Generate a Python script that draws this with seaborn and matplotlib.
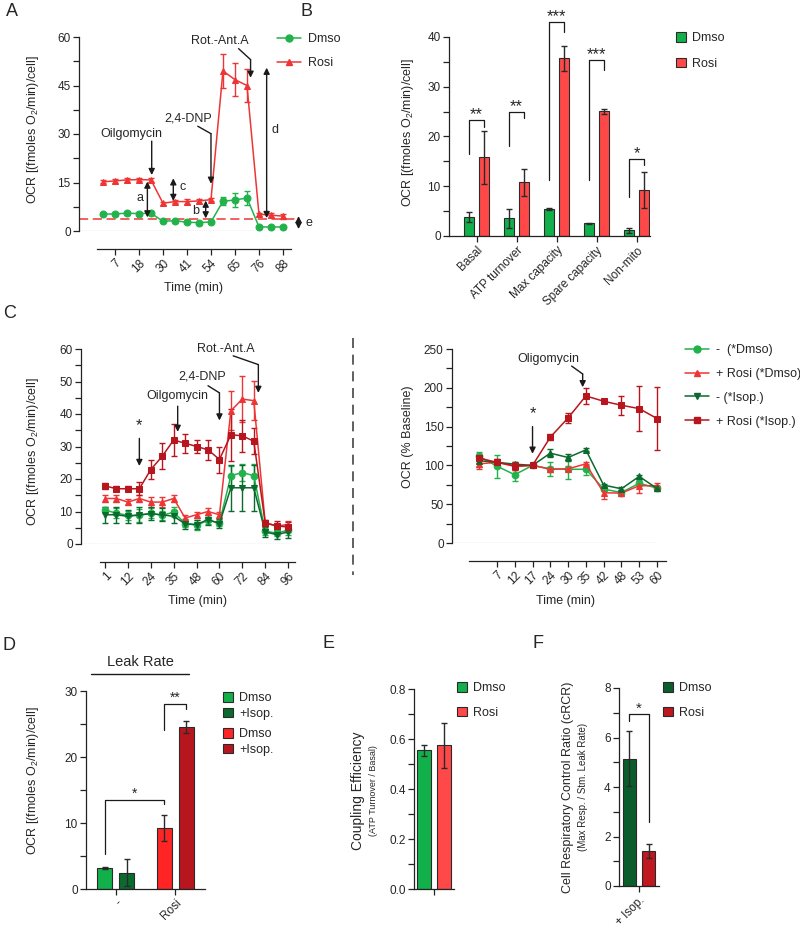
import numpy as np
import pandas as pd
import matplotlib
matplotlib.use('Agg')
import matplotlib.pyplot as plt
from matplotlib.ticker import MultipleLocator
from matplotlib.patches import Patch
from matplotlib.lines import Line2D
import seaborn as sns

# ---------------- data ----------------
# A: time course, Dmso vs Rosi (16 measurements, every other one labelled)
a_tick_labels = ['7', '18', '30', '41', '54', '65', '76', '88']
a_dmso = [5.2, 5.3, 5.5, 5.4, 5.5, 3.0, 3.2, 2.7, 2.6, 2.8, 9.2, 9.6, 10.2, 1.3, 1.2, 1.3]
a_dmso_err = [0.4, 0.4, 0.4, 0.4, 0.4, 0.3, 0.3, 0.3, 0.3, 0.3, 1.3, 2.2, 2.2, 0.3, 0.3, 0.3]
a_rosi = [15.2, 15.5, 15.8, 15.9, 15.8, 8.6, 9.1, 9.1, 9.3, 9.7, 49.5, 46.8, 45.0, 5.2, 4.9, 4.6]
a_rosi_err = [0.5, 0.5, 0.5, 0.5, 0.5, 0.5, 0.5, 0.8, 0.5, 0.5, 5.2, 5.2, 5.0, 0.5, 0.6, 0.8]
a_nonmito_level = 3.7

# B: respiration parameters
b_cats = ['Basal', 'ATP turnover', 'Max capacity', 'Spare capacity', 'Non-mito']
b_dmso = [3.8, 3.6, 5.4, 2.6, 1.2]
b_dmso_err = [1.0, 1.9, 0.2, 0.1, 0.5]
b_rosi = [15.8, 10.8, 35.7, 25.1, 9.2]
b_rosi_err = [5.3, 2.7, 2.5, 0.5, 3.6]
b_stars = ['**', '**', '***', '***', '*']
b_brackets = [(16.5, 23.4, 21.9), (18.0, 25.0, 23.8), (11.3, 43.0, 41.0),
              (11.3, 35.4, 33.4), (7.9, 15.5, 14.3)]

# C left: time course with isoproterenol (17 measurements)
c_tick_labels = ['1', '12', '24', '35', '48', '60', '72', '84', '96']
c_dmso = [10.4, 9.5, 8.8, 8.8, 9.5, 8.8, 9.8, 6.3, 5.8, 7.3, 6.5, 21.0, 22.0, 21.0, 3.9, 3.4, 4.2]
c_dmso_err = [1.0, 1.5, 1.5, 2.0, 1.5, 1.5, 1.5, 1.0, 1.5, 1.0, 1.0, 3.0, 2.5, 3.5, 1.0, 1.0, 1.5]
c_rosi = [14.0, 14.0, 12.9, 14.0, 12.9, 12.9, 14.0, 8.0, 9.0, 10.0, 9.0, 41.0, 44.6, 44.1, 6.5, 5.5, 6.0]
c_rosi_err = [1.0, 1.0, 1.0, 1.0, 1.5, 1.5, 1.0, 1.0, 1.0, 1.0, 1.0, 6.0, 7.0, 6.0, 1.0, 1.0, 1.0]
c_isop = [9.0, 9.0, 8.5, 9.0, 9.3, 9.0, 8.5, 6.2, 6.0, 7.5, 6.3, 17.3, 17.3, 17.3, 3.7, 2.9, 3.7]
c_isop_err = [2.5, 2.5, 2.0, 2.5, 2.0, 2.0, 2.0, 1.5, 1.5, 1.5, 1.5, 7.0, 7.0, 7.0, 1.5, 1.5, 2.0]
c_rosi_isop = [17.9, 17.0, 17.0, 17.0, 22.9, 27.0, 32.0, 31.0, 30.0, 29.0, 26.0, 33.6, 33.3, 31.6, 6.5, 5.6, 5.2]
c_rosi_isop_err = [1.0, 0.8, 0.8, 2.0, 3.0, 4.0, 5.0, 3.0, 2.0, 3.0, 4.0, 8.0, 5.0, 4.0, 1.0, 1.5, 1.5]

# C right: % of baseline (11 measurements, first unlabelled)
c2_tick_labels = ['7', '12', '17', '24', '30', '35', '42', '48', '53', '60']
c2_dmso = [111.5, 99, 88, 100, 95.6, 95, 95, 69.5, 65, 77, 70.7]
c2_dmso_err = [6, 15, 8, 1, 9, 12, 7, 3, 3, 4, 3]
c2_rosi = [102, 104, 98.6, 100, 95, 95.6, 102, 64.7, 64.3, 73.8, 73.8]
c2_rosi_err = [6, 4, 4, 1, 3, 3, 2, 8, 4, 9, 4]
c2_isop = [106, 104, 101.6, 100, 115.8, 110.2, 120, 74.6, 69.9, 85.8, 70.3]
c2_isop_err = [8, 3, 3, 1, 5, 5, 2, 2, 2, 2, 3]
c2_rosi_isop = [109.3, 104, 99.5, 100, 136.4, 161.2, 189.5, 182.7, 177.5, 173.2, 160.4]
c2_rosi_isop_err = [6, 4, 5, 1, 4, 6, 10, 2, 12, 29, 40]

# D: leak rate
d_groups = ['-', 'Rosi']
d_conds = ['Dmso', '+Isop.']
d_dmso = [3.2, 9.2]
d_dmso_err = [0.2, 2.0]
d_isop = [2.5, 24.6]
d_isop_err = [2.0, 0.9]

# E: coupling efficiency
e_conds = ['Dmso', 'Rosi']
e_vals = [0.555, 0.575]
e_err = [0.022, 0.09]

# F: cRCR
f_conds = ['Dmso', 'Rosi']
f_vals = [5.15, 1.42]
f_err = [1.1, 0.28]

# ---------------- style ----------------
GREEN = '#22b24c'
RED = '#ee3535'
DKGREEN = '#0b6a2e'
DKRED = '#b8161f'
BGREEN = '#12b04a'
BRED = '#ff4848'
EDGE = '#2a2a2a'

sns.set_theme(style='ticks')
plt.rcParams['font.family'] = ['Liberation Sans', 'DejaVu Sans']
plt.rcParams['mathtext.default'] = 'regular'
plt.rcParams['axes.linewidth'] = 0.9

W, H = 800, 927
fig = plt.figure(figsize=(8, 9.27), dpi=100)
OCR = 'OCR [(fmoles O$_2$/min)/cell]'
FS = 8.5


def fxy(x, y):
    return x / W, 1 - y / H


def new_ax(left, top, right, bottom):
    return fig.add_axes([left / W, 1 - bottom / H, (right - left) / W, (bottom - top) / H])


def style(ax, major, minor):
    sns.despine(ax=ax)
    ax.yaxis.set_major_locator(MultipleLocator(major))
    ax.yaxis.set_minor_locator(MultipleLocator(minor))
    ax.tick_params(axis='both', which='both', length=4, width=0.9, labelsize=FS, pad=2, color='#222222')
    for s in ax.spines.values():
        s.set_color('#222222')


def ftext(x, y, s, **kw):
    fx, fy = fxy(x, y)
    fig.text(fx, fy, s, ha='center', va='center', **kw)


def arrow(ax, x, y0, y1, style='-|>', ms=9):
    ax.annotate('', xy=(x, y1), xytext=(x, y0), annotation_clip=False,
                arrowprops=dict(arrowstyle=style, color='k', lw=1, mutation_scale=ms,
                                shrinkA=0, shrinkB=0))


def bent_arrow(ax, x0, y0, x1, y1, y2):
    ax.plot([x0, x1], [y0, y1], color='k', lw=1, clip_on=False)
    arrow(ax, x1, y1, y2)


def series(ax, y, err, color, marker, ms):
    x = np.arange(len(y))
    ax.errorbar(x, y, yerr=err, fmt='none', ecolor=color, elinewidth=1, capsize=2, capthick=1, zorder=2)
    sns.lineplot(x=x, y=y, ax=ax, color=color, marker=marker, markersize=ms,
                 markeredgecolor=color, linewidth=1.1, zorder=3)


def bar_errors(ax, errs_by_hue):
    for cont, errs in zip(list(ax.containers), errs_by_hue):
        for bar, e in zip(cont, errs):
            xc = bar.get_x() + bar.get_width() / 2
            ax.errorbar(xc, bar.get_height(), yerr=e, fmt='none', ecolor=EDGE,
                        elinewidth=1, capsize=2.2, capthick=1, zorder=4)


def bracket(ax, x1, x2, y1, ytop, y2, text, dy, fs=12):
    ax.plot([x1, x1, x2, x2], [y1, ytop, ytop, y2], color='k', lw=0.9, clip_on=False)
    ax.text((x1 + x2) / 2, ytop + dy, text, ha='center', va='baseline', fontsize=fs)


def square_legend(labels, colors, x, y, spacing=1.0):
    handles = [Patch(facecolor=c, edgecolor=EDGE, linewidth=0.8) for c in colors]
    fig.legend(handles, labels, loc='upper left', bbox_to_anchor=fxy(x, y), frameon=False,
               fontsize=FS + 0.5, handlelength=0.8, handleheight=0.8, handletextpad=0.5,
               labelspacing=spacing, borderpad=0, borderaxespad=0)


def line_legend(labels, colors, markers, x, y):
    handles = [Line2D([], [], color=c, marker=m, markersize=5, lw=1.1) for c, m in zip(colors, markers)]
    fig.legend(handles, labels, loc='upper left', bbox_to_anchor=fxy(x, y), frameon=False,
               fontsize=FS + 0.5, handlelength=1.9, handletextpad=0.6,
               labelspacing=0.95, borderpad=0, borderaxespad=0)


# ---------------- panel A ----------------
ax = new_ax(79, 37, 303, 231)
style(ax, 15, 7.5)
ax.set_ylim(0, 60)
ax.set_xlim(-2, 16.67)
ax.plot([-2, 15.6], [0, 0], ls=(0, (1, 1)), color='k', lw=0.8)
ax.plot([-2, 16.0], [a_nonmito_level] * 2, ls=(0, (6, 3)), color=RED, lw=1.1)
series(ax, a_dmso, a_dmso_err, GREEN, 'o', 5)
series(ax, a_rosi, a_rosi_err, RED, '^', 5)
ax.spines['bottom'].set_position(('outward', 13))
ax.spines['bottom'].set_bounds(-0.5, 15.67)
ax.set_xticks(np.arange(1, 16, 2))
ax.set_xticklabels(a_tick_labels, rotation=45, ha='right', rotation_mode='anchor')
ax.set_ylabel('')
ax.text(2.4, 30, 'Oilgomycin', ha='center', va='center', fontsize=FS + 0.5)
arrow(ax, 4.06, 27.8, 17.3)
ax.text(7.1, 34.7, '2,4-DNP', ha='center', va='center', fontsize=FS + 0.5)
bent_arrow(ax, 7.9, 32.4, 9.0, 30.1, 14.6)
ax.text(9.75, 58.8, 'Rot.-Ant.A', ha='center', va='center', fontsize=FS + 0.5)
bent_arrow(ax, 11.3, 56.4, 12.3, 53.0, 47.4)
for x, y0, y1, lab, lx, ly in [(3.7, 4.2, 15.3, 'a', 3.1, 10.2), (5.86, 9.3, 16.3, 'c', 6.6, 13.6),
                               (8.56, 3.9, 9.4, 'b', 7.7, 6.2), (13.64, 4.0, 50.5, 'd', 14.3, 31.1),
                               (16.3, 0.6, 4.6, 'e', 17.2, 2.6)]:
    arrow(ax, x, y0, y1, style='<|-|>', ms=9)
    ax.text(lx, ly, lab, ha='center', va='center', fontsize=FS + 0.5)
ftext(33, 130, OCR, rotation=90, fontsize=FS + 0.5)
ftext(193, 288, 'Time (min)', fontsize=FS + 0.5)
line_legend(['Dmso', 'Rosi'], [GREEN, RED], ['o', '^'], 277, 33)

# ---------------- panel B ----------------
ax = new_ax(449, 37, 650, 236)
df_b = pd.DataFrame({'cat': b_cats * 2, 'val': b_dmso + b_rosi,
                     'grp': ['Dmso'] * len(b_cats) + ['Rosi'] * len(b_cats)})
sns.barplot(data=df_b, x='cat', y='val', hue='grp', palette=[BGREEN, BRED], width=0.75, gap=0.33,
            saturation=1, edgecolor=EDGE, linewidth=0.8, errorbar=None, legend=False, ax=ax)
bar_errors(ax, [b_dmso_err, b_rosi_err])
style(ax, 10, 5)
ax.set_ylim(0, 40)
ax.set_xlim(-0.6875, 4.3375)
ax.set_xlabel('')
ax.set_ylabel('')
ax.set_xticks(range(len(b_cats)))
ax.set_xticklabels(b_cats, rotation=45, ha='right', rotation_mode='anchor')
for i, (st, (y1, yt, y2)) in enumerate(zip(b_stars, b_brackets)):
    bracket(ax, i - 0.1875, i + 0.1875, y1, yt, y2, st, 0.1)
ftext(408, 133, OCR, rotation=90, fontsize=FS + 0.5)
square_legend(['Dmso', 'Rosi'], [BGREEN, BRED], 676, 32, spacing=1.1)

# ---------------- panel C left ----------------
ax = new_ax(81, 349, 300, 544)
style(ax, 10, 5)
ax.set_ylim(0, 60)
ax.set_xlim(-2.1, 17.04)
ax.plot([-2.1, 16.2], [0, 0], ls=(0, (1, 1)), color='k', lw=0.8)
series(ax, c_dmso, c_dmso_err, GREEN, 'o', 4.8)
series(ax, c_rosi, c_rosi_err, RED, '^', 4.8)
series(ax, c_isop, c_isop_err, DKGREEN, 'v', 4.8)
series(ax, c_rosi_isop, c_rosi_isop_err, DKRED, 's', 4.8)
ax.spines['bottom'].set_position(('outward', 13))
ax.spines['bottom'].set_bounds(-0.44, 16.6)
ax.set_xticks(np.arange(0, 17, 2))
ax.set_xticklabels(c_tick_labels, rotation=45, ha='right', rotation_mode='anchor')
ax.text(3, 36.4, '*', ha='center', va='center', fontsize=12)
arrow(ax, 3, 32.5, 24.0)
ax.text(6.35, 45.6, 'Oilgomycin', ha='center', va='center', fontsize=FS + 0.5)
arrow(ax, 6.35, 42.4, 34.5)
ax.text(8.45, 51.6, '2,4-DNP', ha='center', va='center', fontsize=FS + 0.5)
bent_arrow(ax, 9.0, 48.7, 10.0, 46.5, 38.0)
ax.text(10.55, 60.1, 'Rot.-Ant.A', ha='center', va='center', fontsize=FS + 0.5)
bent_arrow(ax, 11.2, 57.9, 13.4, 55.2, 46.5)
ftext(33, 452, OCR, rotation=90, fontsize=FS + 0.5)
ftext(197, 601, 'Time (min)', fontsize=FS + 0.5)

# divider
fig.add_artist(Line2D([353 / W, 353 / W], [1 - 338 / H, 1 - 575 / H], color='#444444', lw=1.2,
                      ls=(0, (6, 4))))

# ---------------- panel C right ----------------
ax = new_ax(452, 349, 668, 543)
style(ax, 50, 25)
ax.set_ylim(0, 250)
ax.set_xlim(-1.53, 10.62)
ax.plot([-1.53, 10.0], [0, 0], ls=(0, (1, 1)), color='k', lw=0.8)
series(ax, c2_dmso, c2_dmso_err, GREEN, 'o', 4.8)
series(ax, c2_rosi, c2_rosi_err, RED, '^', 4.8)
series(ax, c2_isop, c2_isop_err, DKGREEN, '^', 4.8)
series(ax, c2_rosi_isop, c2_rosi_isop_err, DKRED, 's', 4.8)
ax.spines['bottom'].set_position(('outward', 13))
ax.spines['bottom'].set_bounds(-0.57, 10.51)
ax.set_xticks(np.arange(1, 11))
ax.set_xticklabels(c2_tick_labels, rotation=45, ha='right', rotation_mode='anchor')
ax.text(3.89, 236.7, 'Oligomycin', ha='center', va='center', fontsize=FS + 0.5)
bent_arrow(ax, 5.2, 228, 5.82, 217.8, 200.7)
ax.text(3, 167, '*', ha='center', va='center', fontsize=12)
arrow(ax, 3, 150, 115)
ftext(408, 437, 'OCR (% Baseline)', rotation=90, fontsize=FS + 0.5)
ftext(566, 601, 'Time (min)', fontsize=FS + 0.5)
line_legend(['-  (*Dmso)', '+ Rosi (*Dmso)', '- (*Isop.)', '+ Rosi (*Isop.)'],
            [GREEN, RED, DKGREEN, DKRED], ['o', '^', 'v', 's'], 685, 344)

# ---------------- panel D ----------------
ax = new_ax(86, 691, 205, 889)
df_d = pd.DataFrame({'grp': d_groups * 2, 'val': d_dmso + d_isop,
                     'cond': [d_conds[0]] * 2 + [d_conds[1]] * 2})
sns.barplot(data=df_d, x='grp', y='val', hue='cond', width=0.74, gap=0.32, saturation=1,
            edgecolor=EDGE, linewidth=0.8, errorbar=None, legend=False, ax=ax)
for cont, cols in zip(ax.containers, [[BGREEN, '#ff2525'], [DKGREEN, DKRED]]):
    for bar, c in zip(cont, cols):
        bar.set_facecolor(c)
bar_errors(ax, [d_dmso_err, d_isop_err])
style(ax, 10, 5)
ax.set_ylim(0, 30)
ax.set_xlim(-0.5, 1.5)
ax.set_xlabel('')
ax.set_ylabel('')
ax.set_xticks([0, 1])
ax.set_xticklabels(d_groups, rotation=45, ha='right', rotation_mode='anchor')
bracket(ax, -0.185, 0.815, 5.3, 13.5, 12.9, '*', 0.3, fs=10)
bracket(ax, 0.815, 1.185, 24.1, 28.0, 27.3, '**', 0.3, fs=10)
ftext(140, 662, 'Leak Rate', fontsize=FS + 2)
fig.add_artist(Line2D([91 / W, 189 / W], [1 - 674 / H] * 2, color='k', lw=1))
ftext(33, 781, OCR, rotation=90, fontsize=FS + 0.5)
square_legend(['Dmso', '+Isop.'], [BGREEN, DKGREEN], 223, 692, spacing=0.3)
square_legend(['Dmso', '+Isop.'], ['#ff2525', DKRED], 223, 728, spacing=0.3)

# ---------------- panel E ----------------
ax = new_ax(414, 689, 454, 889)
df_e = pd.DataFrame({'x': [''] * 2, 'val': e_vals, 'cond': e_conds})
sns.barplot(data=df_e, x='x', y='val', hue='cond', palette=[BGREEN, BRED], width=0.8, gap=0.32,
            saturation=1, edgecolor=EDGE, linewidth=0.8, errorbar=None, legend=False, ax=ax)
bar_errors(ax, [[e_err[0]], [e_err[1]]])
style(ax, 0.2, 0.1)
ax.set_ylim(0, 0.8)
ax.set_xlim(-0.39, 0.39)
ax.set_xlabel('')
ax.set_ylabel('')
ftext(358, 791, 'Coupling Efficiency', rotation=90, fontsize=FS + 1.5)
ftext(373, 791, '(ATP Turnover / Basal)', rotation=90, fontsize=FS - 2)
square_legend(e_conds, [BGREEN, BRED], 457, 682, spacing=1.0)

# ---------------- panel F ----------------
ax = new_ax(619, 688, 659, 886)
df_f = pd.DataFrame({'x': ['+ Isop.'] * 2, 'val': f_vals, 'cond': f_conds})
sns.barplot(data=df_f, x='x', y='val', hue='cond', palette=['#0b5e2b', '#c0181f'], width=0.8, gap=0.31,
            saturation=1, edgecolor=EDGE, linewidth=0.8, errorbar=None, legend=False, ax=ax)
bar_errors(ax, [[f_err[0]], [f_err[1]]])
style(ax, 2, 1)
ax.set_ylim(0, 8)
ax.set_xlim(-0.41, 0.41)
ax.set_xlabel('')
ax.set_ylabel('')
ax.set_xticks([0])
ax.set_xticklabels(['+ Isop.'], rotation=45, ha='right', rotation_mode='anchor')
bracket(ax, -0.2, 0.2, 6.66, 6.93, 2.6, '*', 0.05, fs=11)
ftext(568, 787, 'Cell Respiratory Control Ratio (cRCR)', rotation=90, fontsize=FS + 0.5)
ftext(583, 787, '(Max Resp. / Stm. Leak Rate)', rotation=90, fontsize=FS - 1.5)
square_legend(f_conds, ['#0b5e2b', '#c0181f'], 663, 682, spacing=1.0)

# panel letters
for lab, x, y in [('A', 12, 12), ('B', 307, 12), ('C', 10, 313), ('D', 9, 645),
                  ('E', 328, 643), ('F', 538, 643)]:
    ftext(x, y, lab, fontsize=13)

fig.savefig('out.png', dpi=100)
